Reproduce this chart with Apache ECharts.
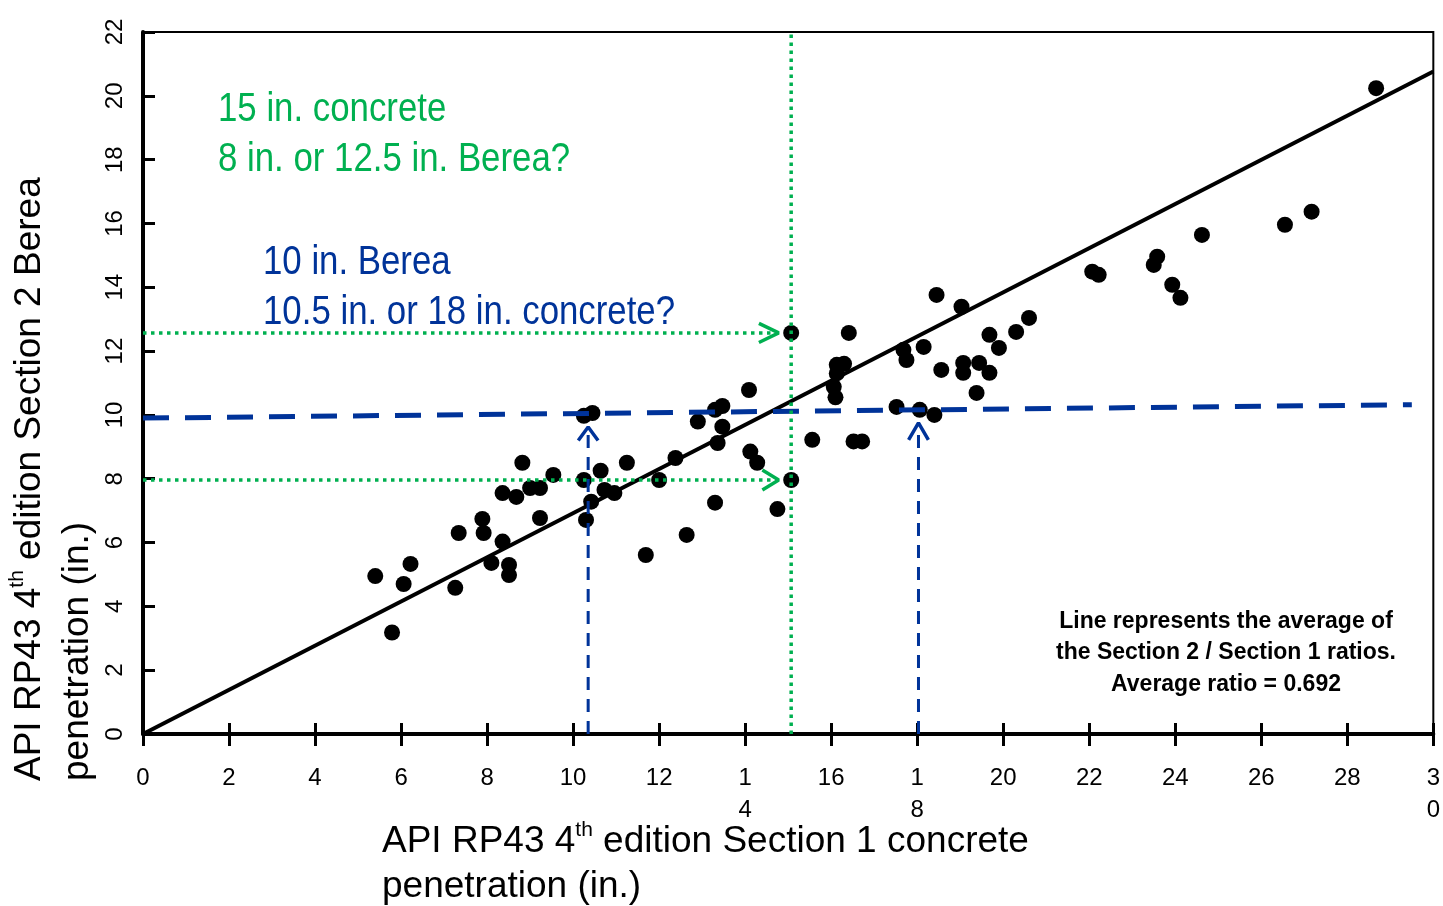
<!DOCTYPE html>
<html>
<head>
<meta charset="utf-8">
<script src="https://cdn.jsdelivr.net/npm/echarts@6/dist/echarts.min.js"></script>
<style>
html,body{margin:0;padding:0;background:#fff;}
#chart{width:1443px;height:906px;}
</style>
</head>
<body>
<div id="chart"></div>
<script>
// ---- data ----
const xTicks = [0,2,4,6,8,10,12,14,16,18,20,22,24,26,28,30];
const yTicks = [0,2,4,6,8,10,12,14,16,18,20,22];
const wrappedXLabels = {14: '1\n4', 18: '1\n8', 30: '3\n0'};

// Section 1 concrete (x) vs Section 2 Berea (y) penetration, inches
const testPoints = [
  [5.40,4.95],[5.79,3.18],[6.06,4.70],[6.22,5.33],[7.26,4.58],[7.34,6.30],
  [7.89,6.74],[7.92,6.30],[8.10,5.36],[8.36,6.03],[8.51,5.30],[8.51,4.98],
  [8.36,7.55],[8.68,7.43],[8.82,8.50],[9.00,7.71],[9.23,7.71],[9.23,6.77],
  [9.54,8.12],[10.25,7.96],[10.30,6.71],[10.42,7.28],[10.64,8.25],[10.73,7.65],
  [10.96,7.55],[11.25,8.50],[11.69,5.61],[12.00,7.96],[12.38,8.65],[12.64,6.24],
  [13.30,7.25],[12.90,9.79],[13.30,10.16],[13.47,10.28],[13.47,9.63],[13.36,9.12],
  [14.09,10.78],[14.12,8.85],[14.28,8.50],[14.75,7.05],[15.07,7.96],[15.07,12.57],
  [15.56,9.22],[10.25,9.97],[10.45,10.06],[16.13,11.57],[16.30,11.60],[16.13,11.30],
  [16.06,10.88],[16.10,10.55],[16.41,12.57],[16.52,9.17],[16.72,9.17],[17.52,10.25],
  [17.68,12.04],[17.75,11.72],[18.06,10.16],[18.40,10.00],[18.15,12.13],[18.56,11.41],
  [19.07,11.63],[19.07,11.32],[19.44,11.63],[19.68,11.32],[19.38,10.69],[19.68,12.51],
  [19.90,12.10],[20.30,12.60],[20.60,13.04],[18.45,13.76],[19.03,13.39],[22.07,14.49],
  [22.22,14.39],[23.58,14.96],[23.50,14.70],[23.93,14.08],[24.12,13.67],[24.62,15.64],
  [26.55,15.96],[27.17,16.37],[28.67,20.24]
];

const averageRatio = 0.692;
const ratioLine = [[0,0],[30,30*averageRatio]];

// annotation guide lines (data coordinates)
const blueLevelLine = [[0,9.9],[29.5,10.32]];
const blueDropA = [[10.35,0],[10.35,9.62]];
const blueArrowA = [[10.12,9.20],[10.35,9.62],[10.58,9.20]];
const blueDropB = [[18.03,0],[18.03,9.75]];
const blueArrowB = [[17.80,9.22],[18.03,9.75],[18.26,9.22]];
const greenVertical = [[15.07,0],[15.07,22]];
const greenUpper = [[0,12.57],[14.78,12.57]];
const greenUpperArrow = [[14.32,12.87],[14.78,12.57],[14.32,12.27]];
const greenLower = [[0,7.96],[14.78,7.96]];
const greenLowerArrow = [[14.40,8.27],[14.78,7.96],[14.40,7.65]];

const greenText = ['15 in. concrete', '8 in. or 12.5 in. Berea?'];
const blueText = ['10 in. Berea', '10.5 in. or 18 in. concrete?'];
const noteText = ['Line represents the average of', 'the Section 2 / Section 1 ratios.', 'Average ratio = 0.692'];

// ---- styles ----
const GREEN = '#00B050';
const BLUE = '#003399';
const SANS = "'Liberation Sans', Arial, sans-serif";

function lineSeries(data, color, width, dash, z) {
  return {
    type: 'line', data: data, showSymbol: false, symbol: 'none',
    lineStyle: {color: color, width: width, type: dash || 'solid', cap: 'butt'},
    z: z || 3, silent: true, animation: false, clip: false
  };
}

function narrowText(txt, x, y, color) {
  return {type: 'text', x: x, y: y, scaleX: 0.87, z: 10,
    style: {text: txt, fill: color, font: '40px ' + SANS, textVerticalAlign: 'middle'}};
}

const chart = echarts.init(document.getElementById('chart'), null, {renderer: 'canvas'});
chart.setOption({
  backgroundColor: '#ffffff',
  animation: false,
  grid: {left: 143, top: 32, width: 1297, height: 702, show: true, borderColor: '#000', borderWidth: 2},
  xAxis: [{
    type: 'value', min: 0, max: 30, interval: 2, position: 'bottom',
    axisLine: {show: true, onZero: false, lineStyle: {color: '#000', width: 4}},
    axisTick: {show: true, inside: false, length: 12, lineStyle: {color: '#000', width: 3}},
    splitLine: {show: false},
    axisLabel: {
      margin: 28, color: '#000', fontSize: 24, fontFamily: SANS, lineHeight: 32,
      formatter: v => wrappedXLabels[v] || String(v),
      customValues: xTicks
    }
  }, {
    type: 'value', min: 0, max: 30, interval: 2, position: 'bottom', offset: 0,
    axisLine: {show: false},
    axisTick: {show: true, inside: true, length: 11, lineStyle: {color: '#000', width: 3}},
    splitLine: {show: false},
    axisLabel: {show: false}
  }],
  yAxis: {
    type: 'value', min: 0, max: 22, interval: 2, position: 'left',
    axisLine: {show: true, onZero: false, lineStyle: {color: '#000', width: 4}},
    axisTick: {show: true, inside: true, length: 12, lineStyle: {color: '#000', width: 3}},
    splitLine: {show: false},
    axisLabel: {rotate: 90, margin: 16, color: '#000', fontSize: 24, fontFamily: SANS, customValues: yTicks}
  },
  series: [
    lineSeries(ratioLine, '#000', 4, 'solid', 2),
    {
      type: 'scatter', data: testPoints, symbol: 'circle', symbolSize: 16,
      itemStyle: {color: '#000', opacity: 1}, z: 3, animation: false, silent: true
    },
    lineSeries(blueLevelLine, BLUE, 5, [26, 16], 4),
    lineSeries(blueDropA, BLUE, 3, [13, 9], 4),
    lineSeries(blueArrowA, BLUE, 3.5, 'solid', 4),
    lineSeries(blueDropB, BLUE, 3, [13, 9], 4),
    lineSeries(blueArrowB, BLUE, 3.5, 'solid', 4),
    lineSeries(greenVertical, GREEN, 3.5, [3.5, 4.5], 5),
    lineSeries(greenUpper, GREEN, 3.5, [3.5, 4.5], 5),
    lineSeries(greenUpperArrow, GREEN, 3.5, 'solid', 5),
    lineSeries(greenLower, GREEN, 3.5, [3.5, 4.5], 5),
    lineSeries(greenLowerArrow, GREEN, 3.5, 'solid', 5)
  ],
  graphic: [
    narrowText(greenText[0], 218, 110, GREEN),
    narrowText(greenText[1], 218, 160, GREEN),
    narrowText(blueText[0], 263, 263, BLUE),
    narrowText(blueText[1], 263, 313, BLUE),
    {type: 'text', x: 1226, y: 622, z: 10, style: {text: noteText[0], fill: '#000', font: 'bold 23px ' + SANS, textAlign: 'center', textVerticalAlign: 'middle'}},
    {type: 'text', x: 1226, y: 653, z: 10, style: {text: noteText[1], fill: '#000', font: 'bold 23px ' + SANS, textAlign: 'center', textVerticalAlign: 'middle'}},
    {type: 'text', x: 1226, y: 685, z: 10, style: {text: noteText[2], fill: '#000', font: 'bold 23px ' + SANS, textAlign: 'center', textVerticalAlign: 'middle'}},
    {
      type: 'text', x: 382, y: 819, z: 10,
      style: {
        text: 'API RP43 4{sup|th} edition Section 1 concrete\npenetration (in.)',
        fill: '#000', fontSize: 37, fontFamily: SANS, lineHeight: 45, textAlign: 'left', textVerticalAlign: 'top',
        rich: {sup: {fontSize: 21, fontFamily: SANS, fill: '#000', verticalAlign: 'top', lineHeight: 45, padding: [1, 0, 0, 0]}}
      }
    },
    {
      type: 'text', x: 6, y: 781, rotation: Math.PI / 2, z: 10,
      style: {
        text: 'API RP43 4{sup|th} edition Section 2 Berea\npenetration (in.)',
        fill: '#000', fontSize: 37, fontFamily: SANS, lineHeight: 48, textAlign: 'left', textVerticalAlign: 'top',
        rich: {sup: {fontSize: 21, fontFamily: SANS, fill: '#000', verticalAlign: 'top', lineHeight: 48, padding: [1, 0, 0, 0]}}
      }
    }
  ]
});
</script>
</body>
</html>
